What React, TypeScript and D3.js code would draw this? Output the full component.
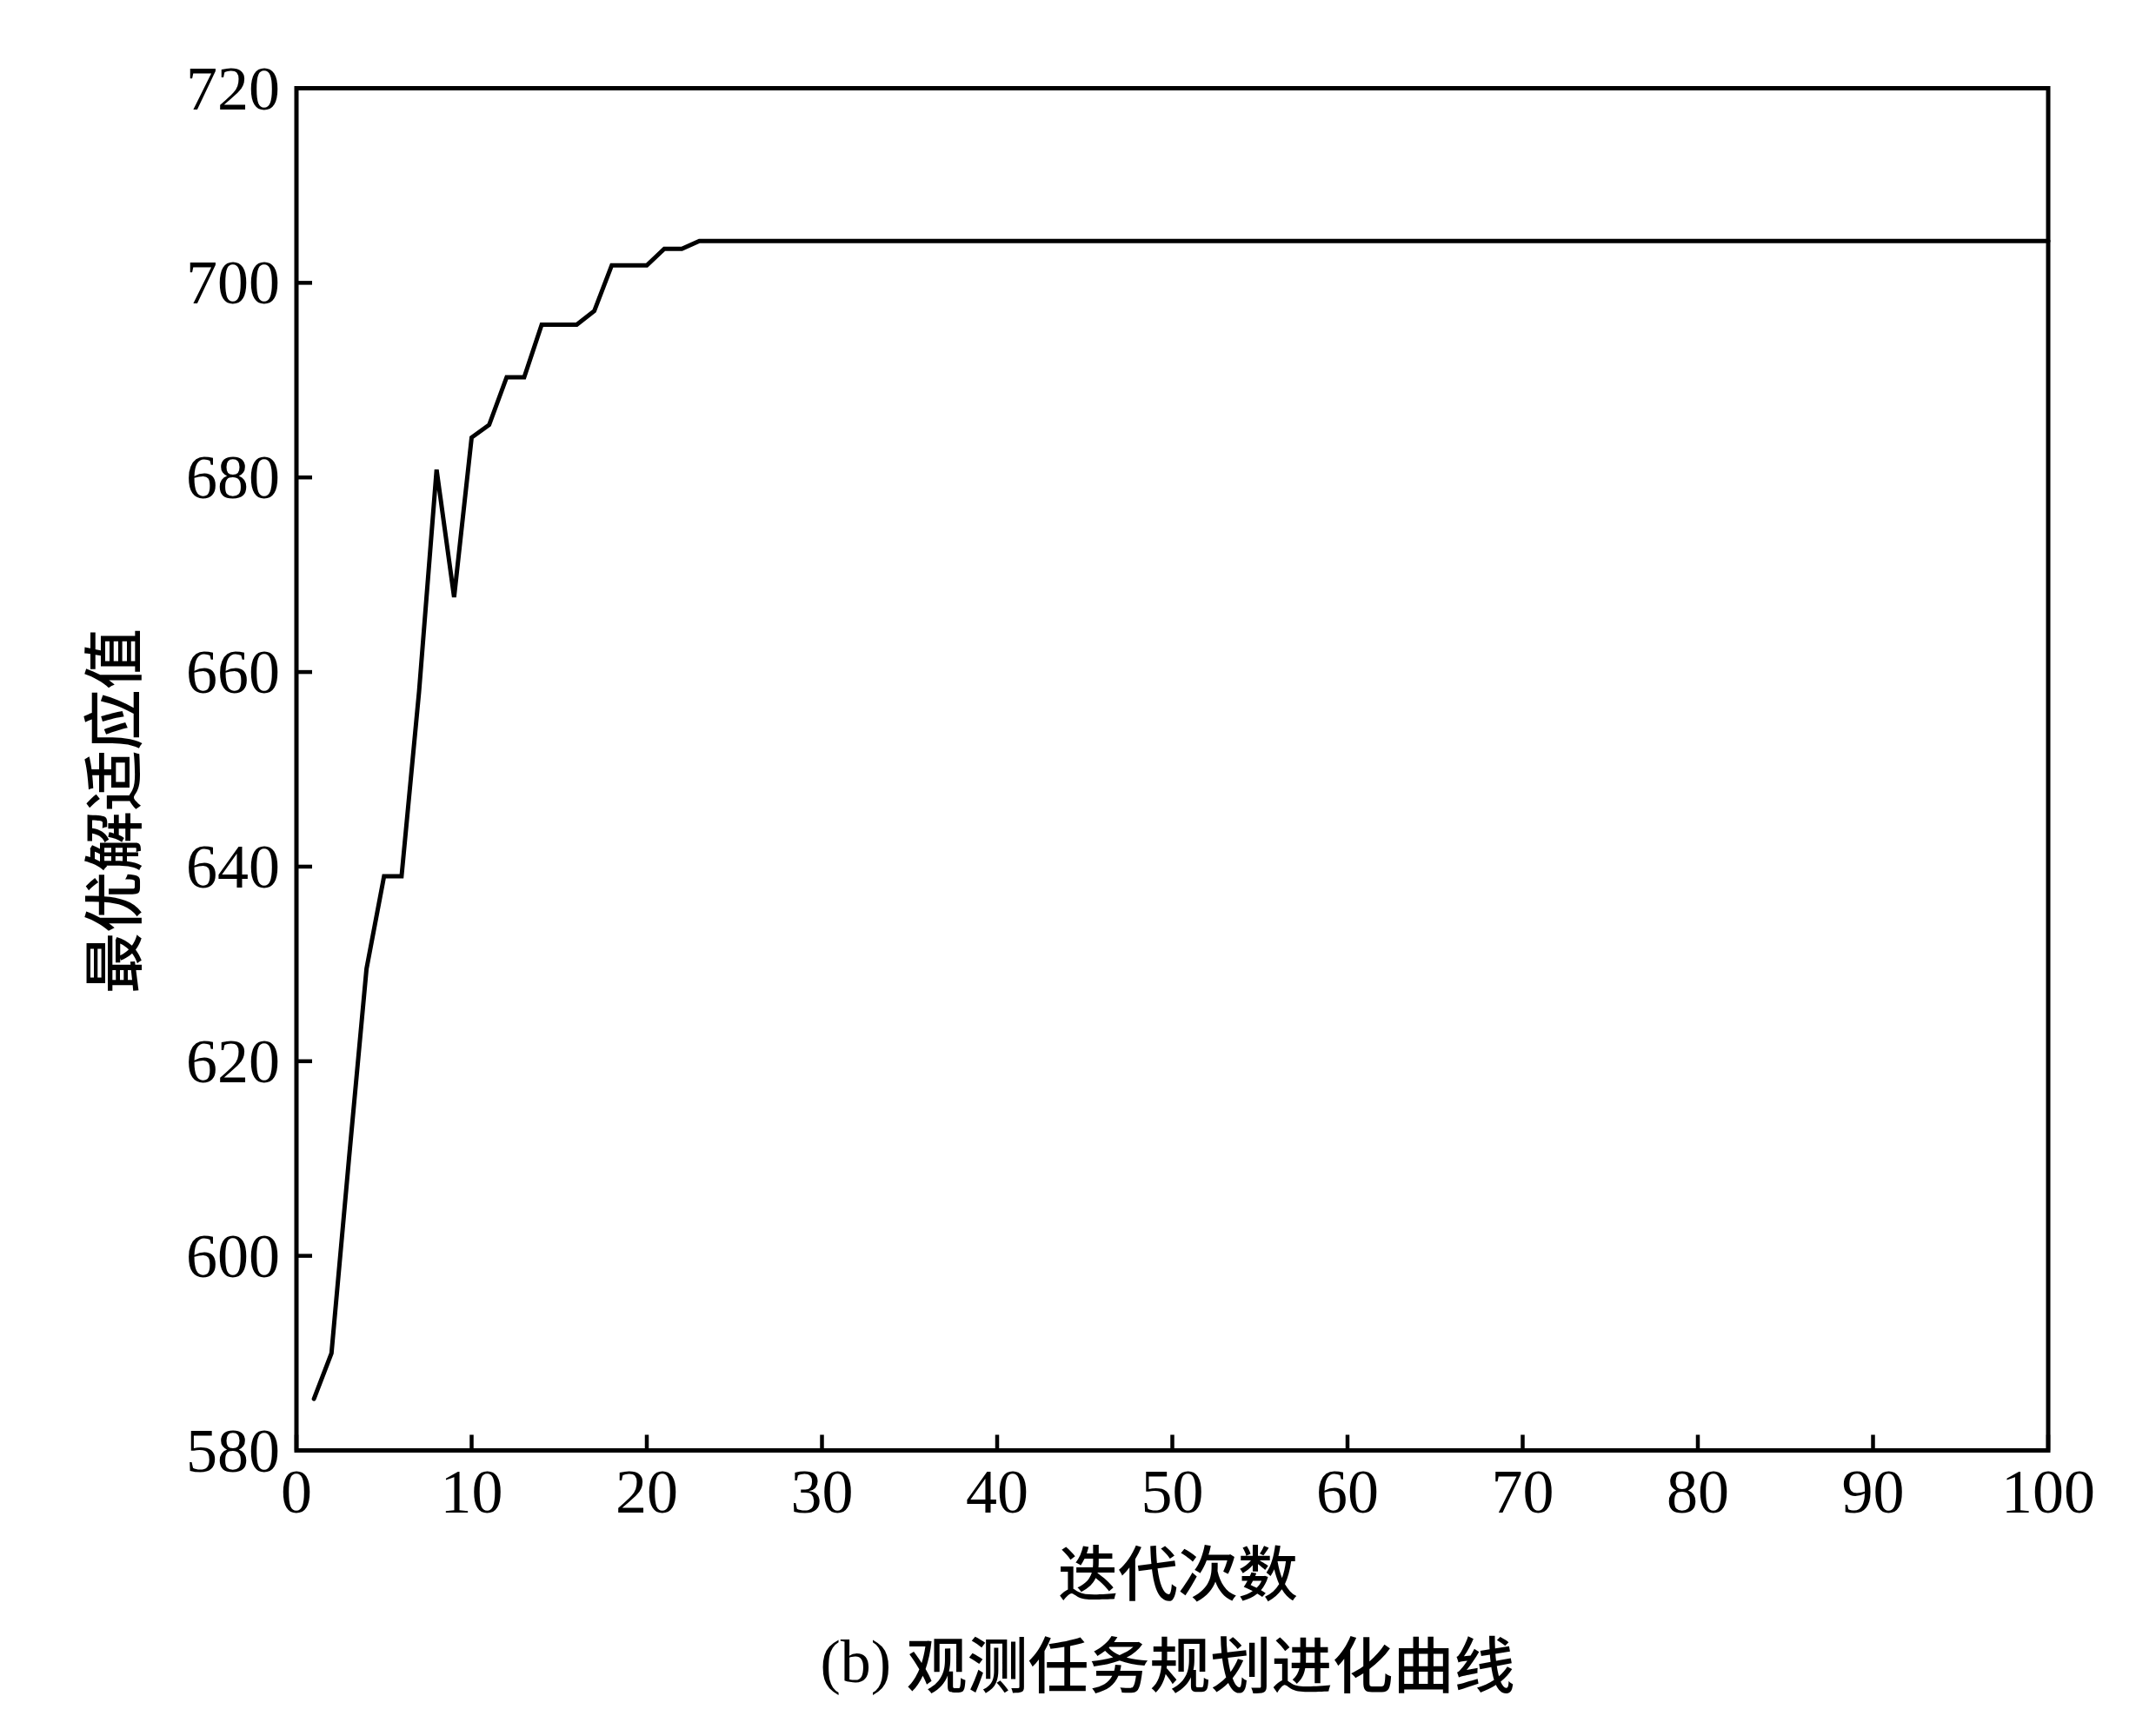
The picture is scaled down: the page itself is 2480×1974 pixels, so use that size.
import React from "react";
import * as d3 from "d3";

const xTicks = [0, 10, 20, 30, 40, 50, 60, 70, 80, 90, 100];
const yTicks = [580, 600, 620, 640, 660, 680, 700, 720];
const xLabel = "迭代次数";
const yLabel = "最优解适应值";
const caption = "观测任务规划进化曲线";

// best fitness per iteration (iterations 1..100)
const fitness = [
  585.3, 590.0, 610.0, 629.5, 639.0, 639.0, 658.0, 680.8, 667.7, 684.1,
  685.4, 690.3, 690.3, 695.7, 695.7, 695.7, 697.1, 701.8, 701.8, 701.8,
  703.5, 703.5, 704.3, 704.3, 704.3, 704.3, 704.3, 704.3, 704.3, 704.3,
  704.3, 704.3, 704.3, 704.3, 704.3, 704.3, 704.3, 704.3, 704.3, 704.3,
  704.3, 704.3, 704.3, 704.3, 704.3, 704.3, 704.3, 704.3, 704.3, 704.3,
  704.3, 704.3, 704.3, 704.3, 704.3, 704.3, 704.3, 704.3, 704.3, 704.3,
  704.3, 704.3, 704.3, 704.3, 704.3, 704.3, 704.3, 704.3, 704.3, 704.3,
  704.3, 704.3, 704.3, 704.3, 704.3, 704.3, 704.3, 704.3, 704.3, 704.3,
  704.3, 704.3, 704.3, 704.3, 704.3, 704.3, 704.3, 704.3, 704.3, 704.3,
  704.3, 704.3, 704.3, 704.3, 704.3, 704.3, 704.3, 704.3, 704.3, 704.3,
];

const W = 2480;
const H = 1974;
const L = 341;
const R = 2356;
const T = 101.5;
const B = 1668.5;

export default function App() {
  const x = d3.scaleLinear().domain([0, 100]).range([L, R]);
  const y = d3.scaleLinear().domain([580, 720]).range([B, T]);
  const line = d3
    .line<number>()
    .x((_, i) => x(i + 1))
    .y((d) => y(d));
  const serif = "'Liberation Serif', 'Times New Roman', serif";
  const cjk = "'Noto Sans CJK SC', sans-serif";
  const tickLen = 18;
  return (
    <div style={{ position: "absolute", left: 0, top: 0 }}>
      <svg width={W} height={H} style={{ display: "block", background: "#fff" }}>
        <rect x={0} y={0} width={W} height={H} fill="#fff" />
        <path d={line(fitness) || ""} fill="none" stroke="#000" strokeWidth={5} strokeLinejoin="miter" strokeLinecap="round" />
        {yTicks.map((t) => (
          <g key={"y" + t}>
            <line x1={L} x2={L + tickLen} y1={y(t)} y2={y(t)} stroke="#000" strokeWidth={4.5} />
            <text x={L - 19} y={y(t)} textAnchor="end" dominantBaseline="central" fontFamily={serif} fontSize={72}>
              {t}
            </text>
          </g>
        ))}
        {xTicks.map((t) => (
          <g key={"x" + t}>
            <line x1={x(t)} x2={x(t)} y1={B} y2={B - tickLen} stroke="#000" strokeWidth={4.5} />
            <text x={x(t)} y={1740} textAnchor="middle" fontFamily={serif} fontSize={72}>
              {t}
            </text>
          </g>
        ))}
        <rect x={L} y={T} width={R - L} height={B - T} fill="none" stroke="#000" strokeWidth={5} />
        <text x={1355} y={1806} textAnchor="middle" dominantBaseline="central" fontFamily={cjk} fontWeight={500} fontSize={69}>
          {xLabel}
        </text>
        <text
          transform={`translate(126, 933) rotate(-90)`}
          textAnchor="middle"
          dominantBaseline="central"
          fontFamily={cjk}
          fontWeight={500}
          fontSize={70}
        >
          {yLabel}
        </text>
        <text x={1343} y={1911} textAnchor="middle" dominantBaseline="central" fontSize={70}>
          <tspan fontFamily={serif}>(b) </tspan>
          <tspan fontFamily={cjk} fontWeight={500}>{caption}</tspan>
        </text>
      </svg>
    </div>
  );
}
